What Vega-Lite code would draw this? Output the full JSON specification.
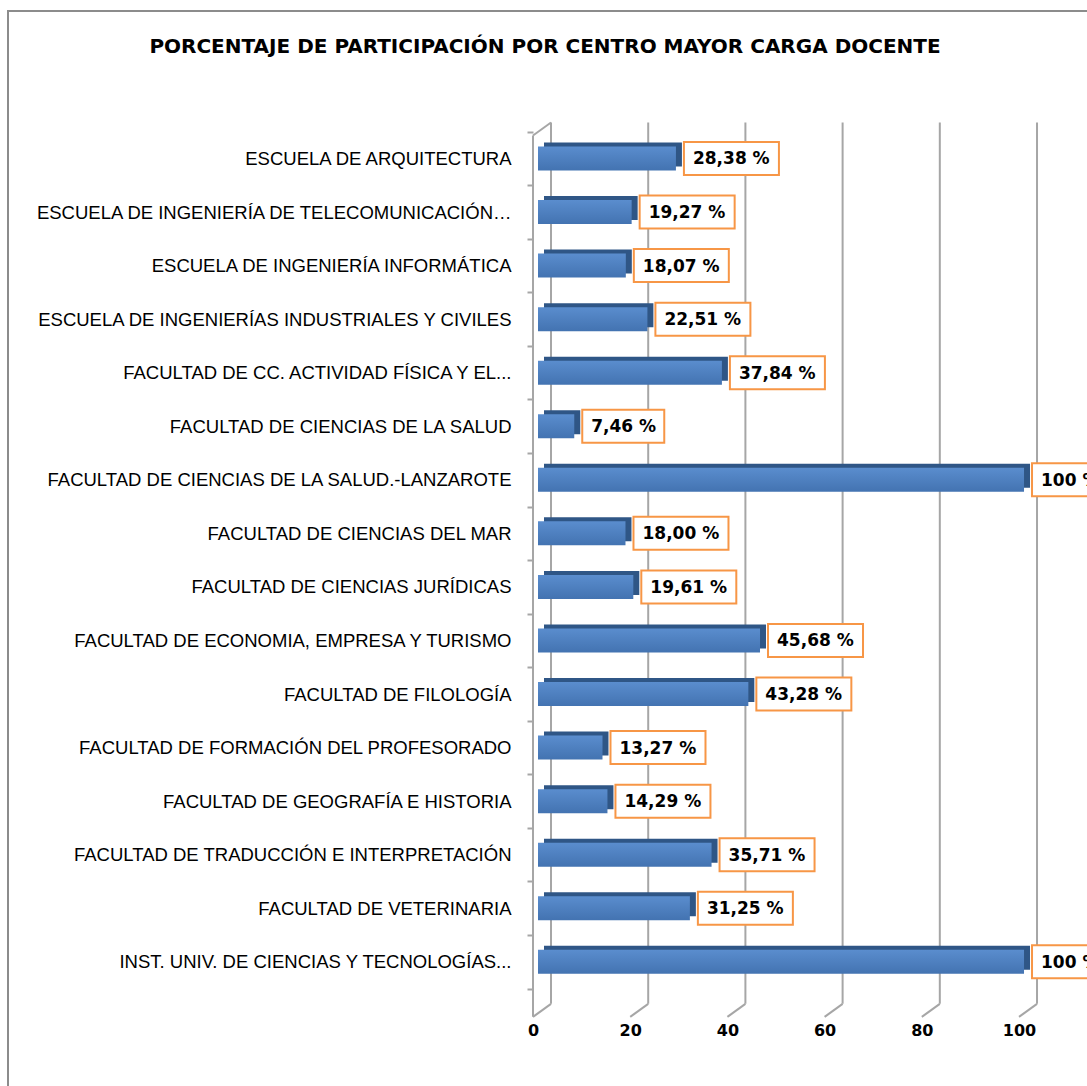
{
  "$schema": "https://vega.github.io/schema/vega-lite/v6.json",
  "width": 1100,
  "height": 1098,
  "autosize": {"type": "none"},
  "padding": {"left": 8, "top": 11, "right": 0, "bottom": 0},
  "background": "white",
  "config": {"view": {"stroke": "#8c8c8c", "strokeWidth": 2}, "font": "Liberation Sans"},
  "title": {"text": "PORCENTAJE DE PARTICIPACIÓN POR CENTRO MAYOR CARGA DOCENTE", "font": "DejaVu Sans", "fontSize": 20, "fontWeight": "bold", "color": "#000000", "anchor": "middle", "dx": -13, "offset": -65, "baseline": "middle"},
  "datasets": {
    "grid": [{"v": 0}, {"v": 20}, {"v": 40}, {"v": 60}, {"v": 80}, {"v": 100}],
    "origen": [{"v": 0}]
  },
  "data": {"values": [
    {"centro": "ESCUELA DE ARQUITECTURA", "v": 28.38, "etiqueta": "28,38 %"},
    {"centro": "ESCUELA DE INGENIERÍA DE TELECOMUNICACIÓN…", "v": 19.27, "etiqueta": "19,27 %"},
    {"centro": "ESCUELA DE INGENIERÍA INFORMÁTICA", "v": 18.07, "etiqueta": "18,07 %"},
    {"centro": "ESCUELA DE INGENIERÍAS INDUSTRIALES Y CIVILES", "v": 22.51, "etiqueta": "22,51 %"},
    {"centro": "FACULTAD  DE CC. ACTIVIDAD FÍSICA Y EL...", "v": 37.84, "etiqueta": "37,84 %"},
    {"centro": "FACULTAD DE CIENCIAS DE LA SALUD", "v": 7.46, "etiqueta": "7,46 %"},
    {"centro": "FACULTAD DE CIENCIAS DE LA SALUD.-LANZAROTE", "v": 100, "etiqueta": "100 %"},
    {"centro": "FACULTAD DE CIENCIAS DEL MAR", "v": 18.0, "etiqueta": "18,00 %"},
    {"centro": "FACULTAD DE CIENCIAS JURÍDICAS", "v": 19.61, "etiqueta": "19,61 %"},
    {"centro": "FACULTAD DE ECONOMIA, EMPRESA Y TURISMO", "v": 45.68, "etiqueta": "45,68 %"},
    {"centro": "FACULTAD DE FILOLOGÍA", "v": 43.28, "etiqueta": "43,28 %"},
    {"centro": "FACULTAD DE FORMACIÓN DEL PROFESORADO", "v": 13.27, "etiqueta": "13,27 %"},
    {"centro": "FACULTAD DE GEOGRAFÍA E HISTORIA", "v": 14.29, "etiqueta": "14,29 %"},
    {"centro": "FACULTAD DE TRADUCCIÓN E INTERPRETACIÓN", "v": 35.71, "etiqueta": "35,71 %"},
    {"centro": "FACULTAD DE VETERINARIA", "v": 31.25, "etiqueta": "31,25 %"},
    {"centro": "INST. UNIV. DE CIENCIAS Y TECNOLOGÍAS...", "v": 100, "etiqueta": "100 %"}
  ]},
  "layer": [
    {
      "data": {"name": "grid"},
      "mark": {"type": "rule", "stroke": "#a6a6a6", "strokeWidth": 2, "xOffset": 13, "yOffset": -36, "y2Offset": 42},
      "encoding": {
        "x": {"field": "v", "type": "quantitative", "title": null},
        "y": {"datum": "ESCUELA DE ARQUITECTURA", "type": "nominal"},
        "y2": {"datum": "INST. UNIV. DE CIENCIAS Y TECNOLOGÍAS..."}
      }
    },
    {
      "data": {"name": "grid"},
      "mark": {"type": "rule", "stroke": "#a6a6a6", "strokeWidth": 2, "xOffset": 13, "x2Offset": -5, "yOffset": 42, "y2Offset": 55},
      "encoding": {
        "x": {"field": "v", "type": "quantitative", "title": null},
        "x2": {"field": "v"},
        "y": {"datum": "INST. UNIV. DE CIENCIAS Y TECNOLOGÍAS...", "type": "nominal"},
        "y2": {"datum": "INST. UNIV. DE CIENCIAS Y TECNOLOGÍAS..."}
      }
    },
    {
      "data": {"name": "origen"},
      "mark": {"type": "rule", "stroke": "#a6a6a6", "strokeWidth": 2, "xOffset": -5, "yOffset": -23, "y2Offset": 55},
      "encoding": {
        "x": {"field": "v", "type": "quantitative", "title": null},
        "y": {"datum": "ESCUELA DE ARQUITECTURA", "type": "nominal"},
        "y2": {"datum": "INST. UNIV. DE CIENCIAS Y TECNOLOGÍAS..."}
      }
    },
    {
      "data": {"name": "origen"},
      "mark": {"type": "rule", "stroke": "#a6a6a6", "strokeWidth": 2, "xOffset": -5, "x2Offset": 13, "yOffset": -23, "y2Offset": -36},
      "encoding": {
        "x": {"field": "v", "type": "quantitative", "title": null},
        "x2": {"field": "v"},
        "y": {"datum": "ESCUELA DE ARQUITECTURA", "type": "nominal"},
        "y2": {"datum": "ESCUELA DE ARQUITECTURA"}
      }
    },
    {
      "mark": {"type": "bar", "size": 24, "color": "#2f5686", "xOffset": 6, "x2Offset": 6, "yOffset": -4},
      "encoding": {
        "x": {"field": "v", "type": "quantitative", "title": null},
        "y": {"field": "centro", "type": "nominal"}
      }
    },
    {
      "mark": {"type": "bar", "size": 24, "color": {"gradient": "linear", "x1": 0, "y1": 0, "x2": 0, "y2": 1, "stops": [{"offset": 0, "color": "#5a8dce"}, {"offset": 1, "color": "#4373b1"}]}},
      "encoding": {
        "x": {
          "field": "v", "type": "quantitative",
          "scale": {"domain": [-109.05, 117.28], "nice": false, "zero": false},
          "axis": {"title": null, "values": [0, 20, 40, 60, 80, 100], "offset": -89, "domain": false, "ticks": false, "grid": false, "labelPadding": 2, "labelOffset": -5, "labelFont": "DejaVu Sans", "labelFontSize": 16, "labelFontWeight": "bold", "labelColor": "#000000", "labelFlush": false}
        },
        "y": {
          "field": "centro", "type": "nominal", "sort": null,
          "scale": {"domain": ["ESCUELA DE ARQUITECTURA", "ESCUELA DE INGENIERÍA DE TELECOMUNICACIÓN…", "ESCUELA DE INGENIERÍA INFORMÁTICA", "ESCUELA DE INGENIERÍAS INDUSTRIALES Y CIVILES", "FACULTAD  DE CC. ACTIVIDAD FÍSICA Y EL...", "FACULTAD DE CIENCIAS DE LA SALUD", "FACULTAD DE CIENCIAS DE LA SALUD.-LANZAROTE", "FACULTAD DE CIENCIAS DEL MAR", "FACULTAD DE CIENCIAS JURÍDICAS", "FACULTAD DE ECONOMIA, EMPRESA Y TURISMO", "FACULTAD DE FILOLOGÍA", "FACULTAD DE FORMACIÓN DEL PROFESORADO", "FACULTAD DE GEOGRAFÍA E HISTORIA", "FACULTAD DE TRADUCCIÓN E INTERPRETACIÓN", "FACULTAD DE VETERINARIA", "INST. UNIV. DE CIENCIAS Y TECNOLOGÍAS..."], "paddingInner": 0, "paddingOuter": 0, "range": [120.7, 977.6]},
          "axis": {"title": null, "offset": -525, "domain": false, "ticks": true, "tickBand": "extent", "tickSize": 6, "tickColor": "#a6a6a6", "tickWidth": 2, "labelPadding": 16, "labelFont": "Liberation Sans", "labelFontSize": 18.5, "labelColor": "#000000", "labelLimit": 600, "grid": false}
        }
      }
    },
    {
      "mark": {"type": "bar", "size": 33, "fill": "white", "stroke": "#f79646", "strokeWidth": 2, "xOffset": 8, "x2Offset": {"expr": "12 + 13*length(datum.etiqueta)"}},
      "encoding": {
        "x": {"field": "v", "type": "quantitative", "title": null},
        "x2": {"field": "v"},
        "y": {"field": "centro", "type": "nominal"}
      }
    },
    {
      "mark": {"type": "text", "align": "left", "baseline": "middle", "xOffset": 17, "dy": 1, "font": "DejaVu Sans", "fontSize": 17, "fontWeight": "bold", "color": "#000000"},
      "encoding": {
        "x": {"field": "v", "type": "quantitative", "title": null},
        "y": {"field": "centro", "type": "nominal"},
        "text": {"field": "etiqueta"}
      }
    }
  ]
}
